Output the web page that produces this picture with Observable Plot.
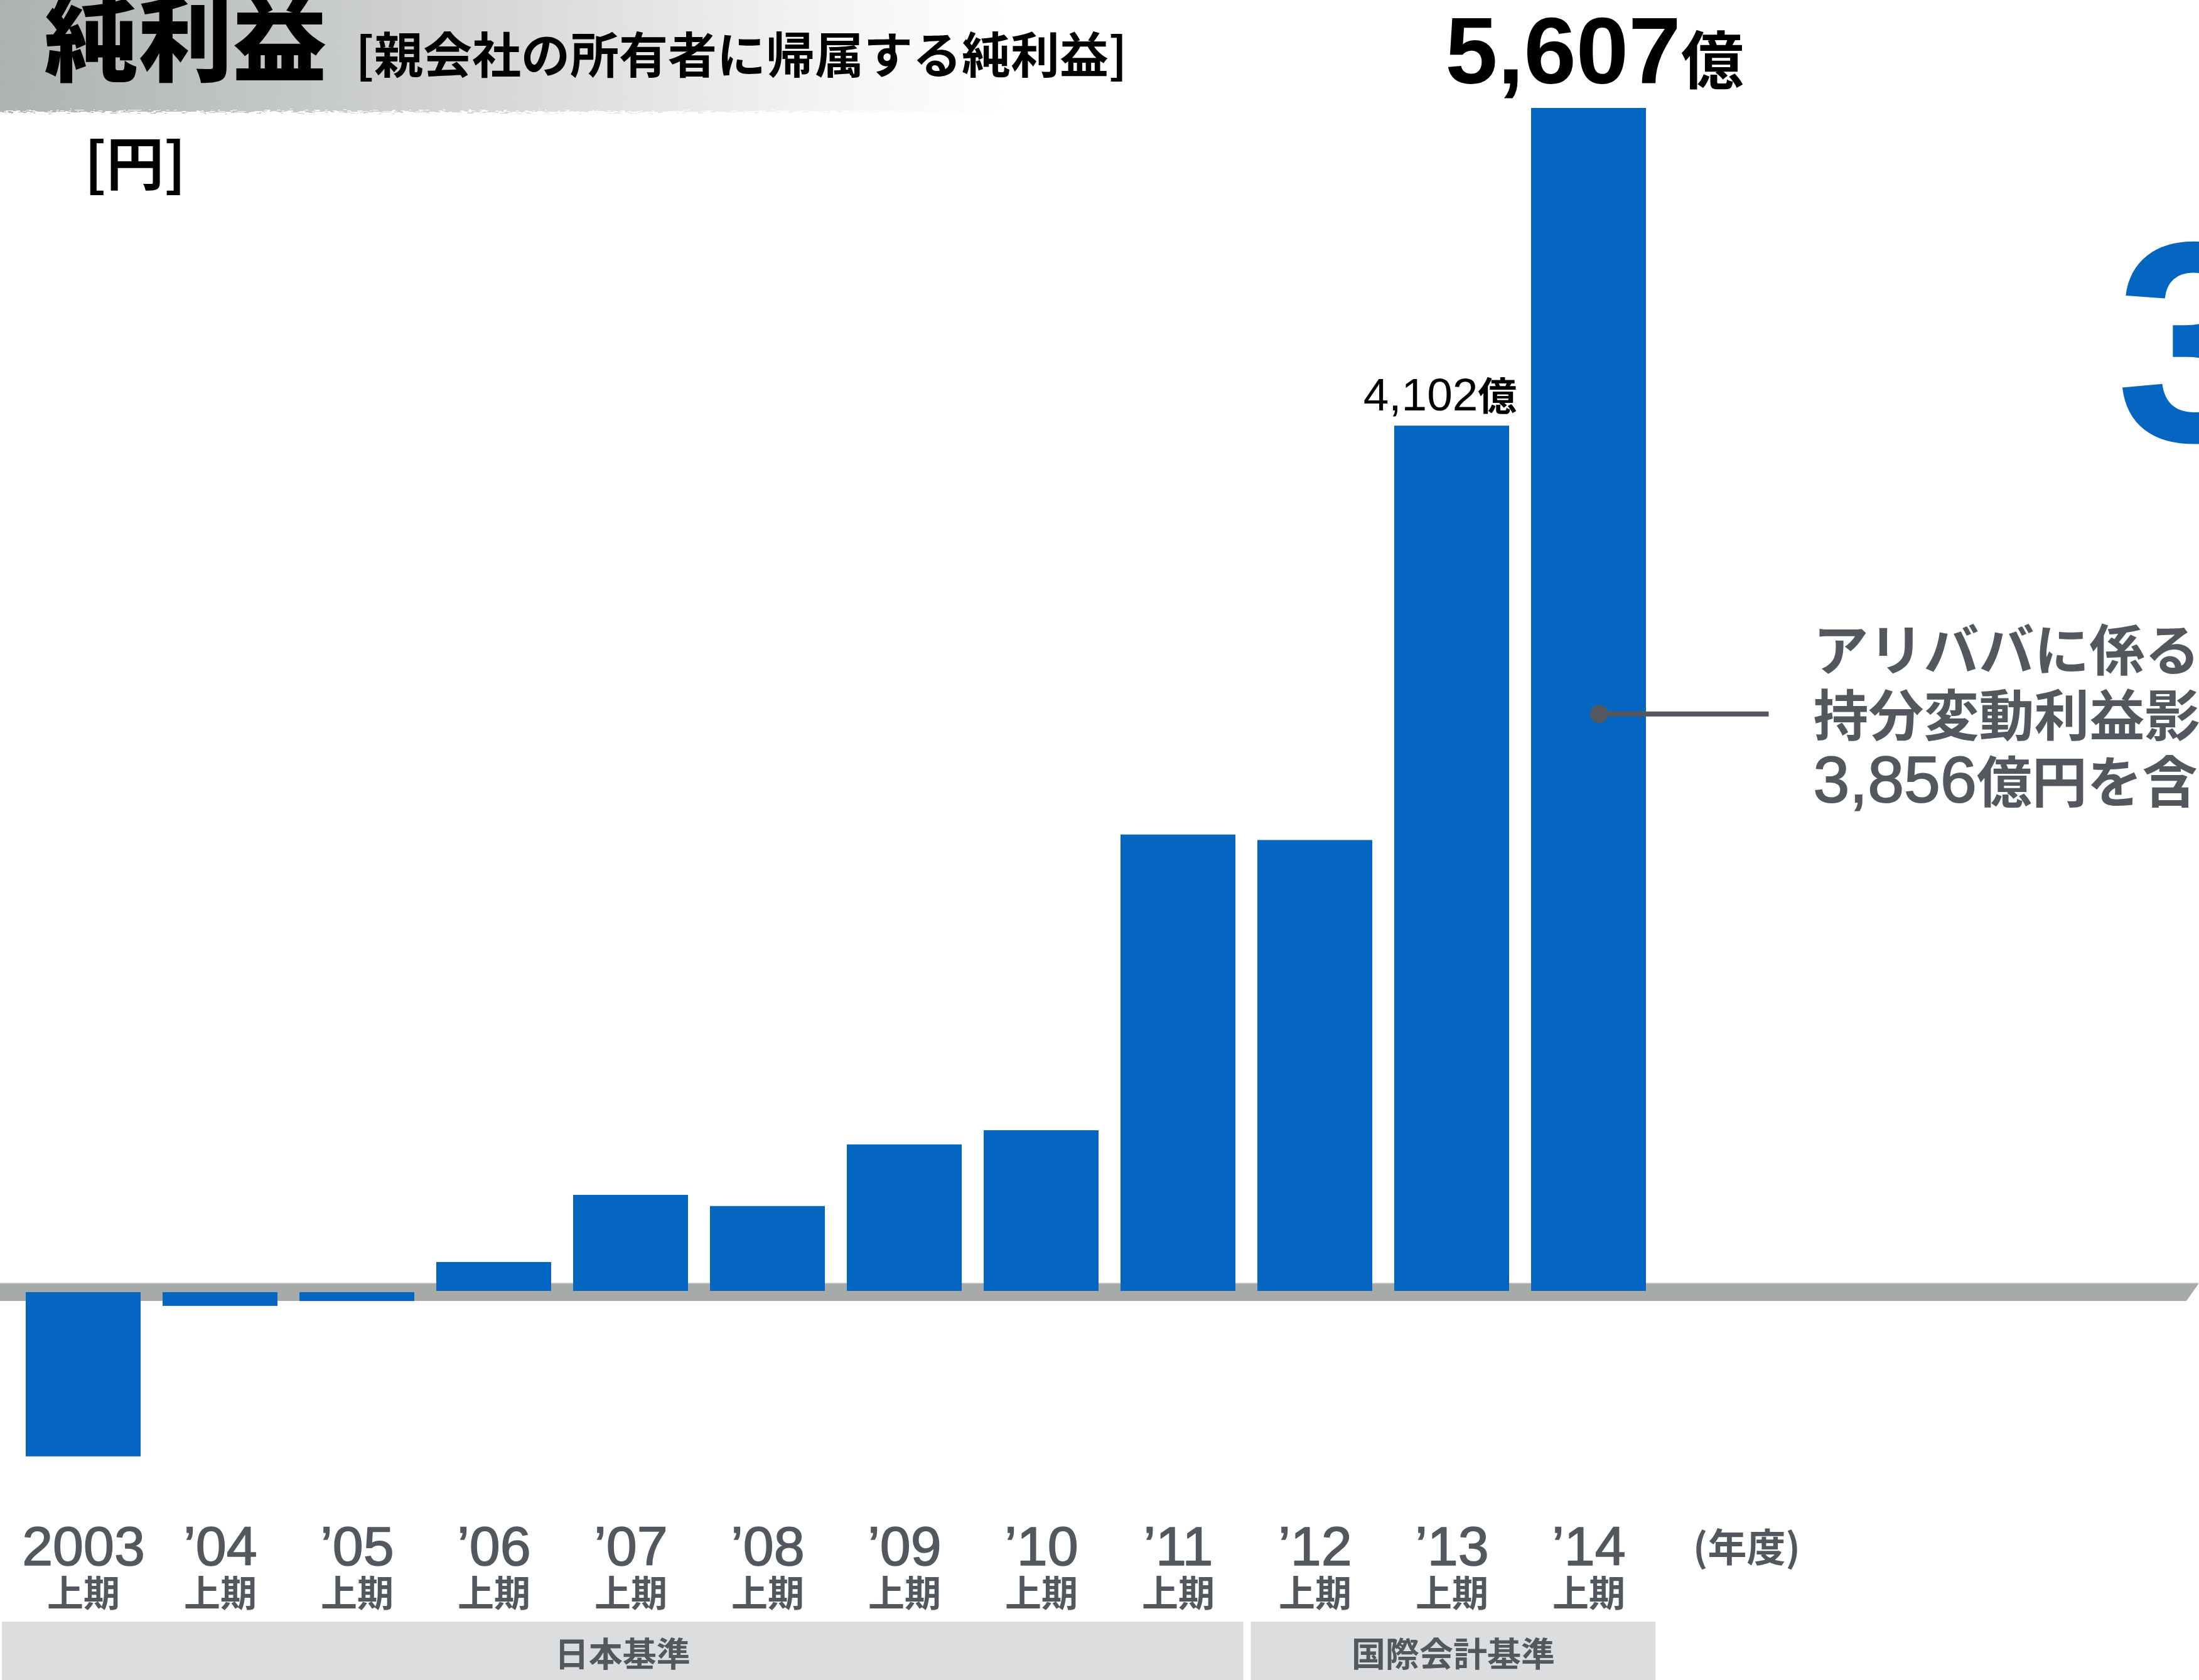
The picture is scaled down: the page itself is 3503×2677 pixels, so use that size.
<!DOCTYPE html>
<html><head><meta charset="utf-8">
<script src="https://cdn.jsdelivr.net/npm/d3@7"></script>
<script src="https://cdn.jsdelivr.net/npm/@observablehq/plot@0.6"></script>
<style>
html,body{margin:0;padding:0;background:#fff;}
#chart svg{display:block;}
</style></head><body><div id="chart"></div>
<script>
// ---- data ----
const years = ["2003","’04","’05","’06","’07","’08","’09","’10","’11","’12","’13","’14"];
const netIncome = [-781, -68, -45, 140, 458, 405, 697, 764, 2165, 2139, 4102, 5607]; // 億円
const periodLabel = "上期";
const standardOf = ["日本基準","日本基準","日本基準","日本基準","日本基準","日本基準","日本基準","日本基準","日本基準","国際会計基準","国際会計基準","国際会計基準"];
const standards = ["日本基準","国際会計基準"];
const labelledYears = ["’13","’14"];
const unit = "億";
const yearUnit = "(年度)";
const titleText = "純利益";
const subtitleText = "[親会社の所有者に帰属する純利益]";
const axisUnit = "[円]";
const noteLines = [["アリババに係る"],["持分変動利益影響"],["3,856","億円を含む"]];
const noteAnchorValue = 2736;
const nextPanelGlyph = "3";

// ---- styles ----
const W = 3503, H = 2677;
const blue = "#0566c1", ink = "#53585f";
const latin = "'Liberation Sans', 'Noto Sans CJK JP', sans-serif";
const cjk = "'Noto Sans CJK JP', sans-serif";
const zeroY = 2058, k = (2058 - 172) / 5607;
const labelStyle = {
  "’13": {size: 73, unitSize: 62, dy: -25, dx: -19, weight: "normal"},
  "’14": {size: 150, unitSize: 100, dy: -40, dx: 9, weight: "bold"}
};

const rows = years.map((year, i) => ({year, value: netIncome[i], standard: standardOf[i]}));
const labelled = rows.filter(d => labelledYears.includes(d.year));
const fmt = d3.format(",");

const chart = Plot.plot({
  width: W, height: H,
  marginTop: 0, marginRight: 0, marginBottom: 0, marginLeft: 0,
  x: {type: "band", domain: years, range: [4.5, 2657.8], padding: 0.16, axis: null},
  y: {domain: [-1000, 6000], range: [zeroY + 1000 * k, zeroY - 6000 * k], axis: null},
  style: {background: "transparent"},
  marks: [
    Plot.ruleY([0], {stroke: "#a6aaa8", strokeWidth: 29}),
    Plot.ruleY([0], {stroke: "#d3d5d4", strokeWidth: 1.5, dy: -14}),
    Plot.barY(rows.filter(d => d.value >= 0), {x: "year", y: "value", fill: blue, insetBottom: 1}),
    Plot.barY(rows.filter(d => d.value < 0), {x: "year", y: "value", fill: blue, insetTop: 1}),
    ...labelled.map(d => Plot.text([d], {
      x: "year", y: "value", text: r => fmt(r.value) + unit,
      lineAnchor: "bottom", dy: labelStyle[d.year].dy, dx: labelStyle[d.year].dx,
      fontSize: labelStyle[d.year].size, fontWeight: labelStyle[d.year].weight,
      fontFamily: latin, fill: "#000"
    })),
    // x tick labels
    Plot.text(years, {x: d => d, text: d => d, frameAnchor: "bottom", lineAnchor: "bottom", dy: -184,
      fontSize: 88, fontFamily: latin, fill: ink, stroke: ink, strokeWidth: 1.6}),
    Plot.text(years, {x: d => d, text: () => periodLabel, frameAnchor: "bottom", lineAnchor: "bottom", dy: -118,
      fontSize: 58, fontWeight: "bold", fontFamily: cjk, fill: ink}),
    Plot.text([years[years.length - 1]], {x: d => d, text: () => yearUnit, frameAnchor: "bottom", lineAnchor: "bottom",
      dy: -189, dx: 166, textAnchor: "start", fontSize: 62, fontWeight: "bold", fontFamily: cjk, fill: ink}),
    // titles
    Plot.text([titleText], {frameAnchor: "top-left", text: d => d, textAnchor: "start", lineAnchor: "bottom",
      dx: 70, dy: 117, fontSize: 150, fontWeight: 900, fontFamily: cjk, fill: "#000"}),
    Plot.text([subtitleText], {frameAnchor: "top-left", text: d => d, textAnchor: "start", lineAnchor: "bottom",
      dx: 566, dy: 116, fontSize: 78, fontWeight: "bold", fontFamily: cjk, fill: "#000"}),
    Plot.text([axisUnit], {frameAnchor: "top-left", text: d => d, textAnchor: "start", lineAnchor: "bottom",
      dx: 134, dy: 294, fontSize: 92, fontWeight: "bold", fontFamily: cjk, fill: "#000"}),
    Plot.text([nextPanelGlyph], {frameAnchor: "top-left", text: d => d, textAnchor: "start", lineAnchor: "bottom",
      dx: 3370, dy: 702, fontSize: 455, fontWeight: "bold", fontFamily: latin, fill: blue})
  ]
});

document.getElementById("chart").appendChild(chart);
const svg = d3.select(chart);
const xs = chart.scale("x"), ys = chart.scale("y");
const step = xs.step ?? (xs.apply(years[1]) - xs.apply(years[0]));
const bw = xs.bandwidth ?? step * 0.84;
const gap = step - bw;

// value labels: smaller 億
labelled.forEach(d => {
  const s = fmt(d.value) + unit;
  svg.selectAll("text").filter(function() { return this.textContent === s; }).each(function() {
    const t = d3.select(this);
    t.text(null);
    t.append("tspan").text(fmt(d.value));
    t.append("tspan").attr("font-size", labelStyle[d.year].unitSize).attr("font-family", cjk)
      .attr("font-weight", "bold").text(unit);
  });
});

// title band (gradient with rough bottom edge)
const defs = svg.insert("defs", ":first-child");
const grad = defs.append("linearGradient").attr("id", "tg").attr("x1", 0).attr("x2", 1).attr("y1", 0).attr("y2", 0);
grad.append("stop").attr("offset", 0).attr("stop-color", "#adb1b1");
grad.append("stop").attr("offset", 0.45).attr("stop-color", "#d2d4d4");
grad.append("stop").attr("offset", 0.8).attr("stop-color", "#f1f2f2");
grad.append("stop").attr("offset", 1).attr("stop-color", "#ffffff");
const filt = defs.append("filter").attr("id", "rough").attr("x", "-0.02").attr("y", "-0.1").attr("width", 1.04).attr("height", 1.3);
filt.append("feTurbulence").attr("type", "fractalNoise").attr("baseFrequency", "0.09 0.6").attr("numOctaves", 2).attr("seed", 4).attr("result", "n");
filt.append("feDisplacementMap").attr("in", "SourceGraphic").attr("in2", "n").attr("scale", 16)
  .attr("xChannelSelector", "R").attr("yChannelSelector", "G");
svg.insert("rect", "defs + *").attr("x", -10).attr("y", -10).attr("width", 1610).attr("height", 188)
  .attr("fill", "url(#tg)").attr("filter", "url(#rough)");

// axis band slanted end
const y0 = ys.apply(0);
svg.append("path").attr("d", `M${W - 20},${y0 + 15}L${W + 1},${y0 + 15}L${W + 1},${y0 - 15}Z`).attr("fill", "#fff");

// annotation
const cx = xs.apply("’14") + bw / 2;
const ay = ys.apply(noteAnchorValue);
svg.append("line").attr("x1", cx + 17).attr("x2", cx + 287).attr("y1", ay).attr("y2", ay)
  .attr("stroke", "#54585e").attr("stroke-width", 8);
svg.append("circle").attr("cx", cx + 17).attr("cy", ay).attr("r", 14.5).attr("fill", "#54585e");
const note = svg.append("text").attr("fill", ink).attr("font-weight", "bold").attr("text-anchor", "start");
noteLines.forEach((parts, i) => {
  parts.forEach((p, j) => {
    const isNum = /^[\d,]+$/.test(p);
    const ts = note.append("tspan").text(p)
      .attr("font-family", isNum ? latin : cjk)
      .attr("font-weight", isNum ? "normal" : "bold")
      .attr("font-size", isNum ? 104 : 88);
    if (isNum) ts.attr("stroke", ink).attr("stroke-width", 2);
    if (j === 0) ts.attr("x", cx + 358).attr("y", ay + [-70, 34, 140][i]);
  });
});

// accounting standard boxes
const boxTop = H - 93;
standards.forEach((s, i) => {
  const cats = years.filter((y, j) => standardOf[j] === s);
  let left = xs.apply(cats[0]) - gap / 2;
  let right = xs.apply(cats[cats.length - 1]) + bw + gap / 2;
  left = i === 0 ? 3 : left + 7;
  right = i === standards.length - 1 ? right - 2 : right - 5;
  svg.append("rect").attr("x", left).attr("y", boxTop).attr("width", right - left).attr("height", H - boxTop)
    .attr("fill", "#dcdddf");
  svg.append("text").attr("x", (left + right) / 2).attr("y", H - 21).attr("text-anchor", "middle")
    .attr("font-family", cjk).attr("font-size", 54).attr("font-weight", "bold").attr("fill", ink).text(s);
});
</script></body></html>
